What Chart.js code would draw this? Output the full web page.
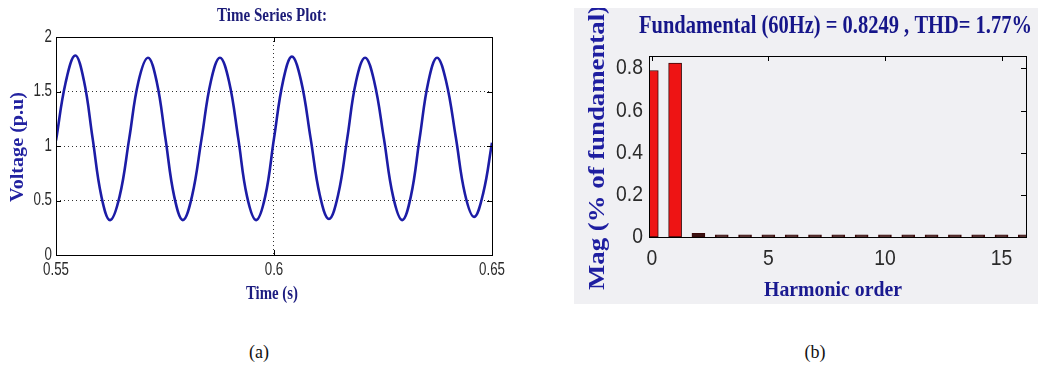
<!DOCTYPE html>
<html>
<head>
<meta charset="utf-8">
<script src="https://cdn.jsdelivr.net/npm/chart.js@4.4.1/dist/chart.umd.min.js"></script>
<style>
  html, body { margin: 0; padding: 0; background: #ffffff; }
  body { width: 1038px; height: 368px; position: relative; overflow: hidden; }
  #wrapA { position: absolute; left: 0; top: 0; width: 520px; height: 310px; }
  #wrapB { position: absolute; left: 574px; top: 8px; width: 464px; height: 296px; background: #f0f0f3; }
  .cap { position: absolute; top: 342px; font-family: 'Liberation Serif', 'Times New Roman', serif; font-size: 18px; color: #111; transform: translateX(-50%); }
</style>
</head>
<body>
<div id="wrapA"><canvas id="chartA" width="520" height="310"></canvas></div>
<div id="wrapB"><canvas id="chartB" width="464" height="296"></canvas></div>
<div class="cap" style="left:259px">(a)</div>
<div class="cap" style="left:815px">(b)</div>
<script>
// ---------- data: (a) time series ----------
const timeA = [
  0.5500, 0.5522, 0.5544, 0.5564, 0.5584, 0.5604, 0.5624,
  0.5646, 0.5668, 0.5689, 0.5711, 0.5731, 0.5751, 0.5771, 0.5791,
  0.5812, 0.5834, 0.5855, 0.5876, 0.5897, 0.5918, 0.5938, 0.5959,
  0.5980, 0.6000, 0.6021, 0.6041, 0.6062, 0.6084, 0.6105, 0.6126,
  0.6147, 0.6168, 0.6188, 0.6209, 0.6230, 0.6252, 0.6273, 0.6294,
  0.6314, 0.6334, 0.6354, 0.6374, 0.6395, 0.6417, 0.6438, 0.6459,
  0.6480, 0.6500
];
const voltA = [
  1.05, 1.58, 1.83, 1.60, 1.07, 0.54, 0.32,
  0.54, 1.07, 1.59, 1.81, 1.59, 1.07, 0.54, 0.32,
  0.54, 1.07, 1.59, 1.81, 1.59, 1.07, 0.54, 0.32,
  0.54, 1.07, 1.60, 1.82, 1.60, 1.07, 0.55, 0.33,
  0.55, 1.07, 1.59, 1.81, 1.59, 1.07, 0.54, 0.32,
  0.54, 1.07, 1.59, 1.81, 1.59, 1.08, 0.56, 0.35,
  0.57, 1.03
];
const xTickValsA = [0.55, 0.6, 0.65];
const xTickLabelsA = ['0.55', '0.6', '0.65'];
const yTickValsA = [0, 0.5, 1, 1.5, 2];
const yTickLabelsA = ['0', '0.5', '1', '1.5', '2'];

// ---------- data: (b) harmonic spectrum ----------
const harmonicOrder = [0, 1, 2, 3, 4, 5, 6, 7, 8, 9, 10, 11, 12, 13, 14, 15, 16];
const harmonicMag = [0.79, 0.8249, 0.018, 0.01, 0.01, 0.01, 0.01, 0.01, 0.01, 0.01, 0.01, 0.01, 0.01, 0.01, 0.01, 0.01, 0.01];
const xTickValsB = [0, 5, 10, 15];
const xTickLabelsB = ['0', '5', '10', '15'];
const yTickValsB = [0, 0.2, 0.4, 0.6, 0.8];
const yTickLabelsB = ['0', '0.2', '0.4', '0.6', '0.8'];

// ---------- plugins ----------
const framePlugin = {
  id: 'matlabFrame',
  afterDatasetsDraw(chart, args, opts) {
    const { ctx, chartArea: a } = chart;
    const L = opts.tickLen || 5;
    const xs = chart.scales.x, ys = chart.scales.y;
    ctx.save();
    ctx.strokeStyle = opts.color || '#000';
    ctx.lineWidth = 1;
    ctx.setLineDash([]);
    ctx.beginPath();
    xs.ticks.forEach(t => {
      const px = Math.round(xs.getPixelForValue(t.value)) + 0.5;
      ctx.moveTo(px, a.top); ctx.lineTo(px, a.top + L);
      if (opts.bottomTicks) { ctx.moveTo(px, a.bottom); ctx.lineTo(px, a.bottom - L); }
    });
    ys.ticks.forEach(t => {
      const py = Math.round(ys.getPixelForValue(t.value)) + 0.5;
      ctx.moveTo(a.right, py); ctx.lineTo(a.right - L, py);
      if (opts.leftTicks) { ctx.moveTo(a.left, py); ctx.lineTo(a.left + L, py); }
    });
    ctx.stroke();
    ctx.strokeRect(Math.round(a.left) + 0.5, Math.round(a.top) + 0.5,
                   Math.round(a.right - a.left), Math.round(a.bottom - a.top));
    // tick labels
    const tl = opts.tickLabels;
    if (tl) {
      ctx.font = tl.font;
      ctx.fillStyle = tl.color;
      ctx.textBaseline = 'middle';
      xs.ticks.forEach((t, i) => {
        ctx.save();
        ctx.textAlign = 'center';
        ctx.translate(xs.getPixelForValue(t.value), a.bottom + tl.xGap);
        ctx.scale(tl.scaleX, 1);
        ctx.fillText(tl.xLabels[i], 0, 0);
        ctx.restore();
      });
      ys.ticks.forEach((t, i) => {
        ctx.save();
        ctx.textAlign = 'right';
        ctx.translate(a.left - tl.yGap, ys.getPixelForValue(t.value));
        ctx.scale(tl.scaleX, 1);
        ctx.fillText(tl.yLabels[i], 0, 0);
        ctx.restore();
      });
    }
    ctx.restore();
  }
};

const textPlugin = {
  id: 'fitText',
  afterDraw(chart, args, opts) {
    const ctx = chart.ctx;
    (opts.items || []).forEach(it => {
      ctx.save();
      ctx.font = it.font;
      ctx.fillStyle = it.color;
      ctx.textAlign = 'center';
      ctx.textBaseline = 'middle';
      ctx.translate(it.x, it.y);
      if (it.rotate) ctx.rotate(it.rotate);
      const w = ctx.measureText(it.text).width;
      if (it.width) ctx.scale(it.width / w, 1);
      ctx.fillText(it.text, 0, 0);
      ctx.restore();
    });
  }
};

const sans = "'Liberation Sans', Arial, sans-serif";
const serif = "'Liberation Serif', 'Times New Roman', serif";

function fixTicks(vals) {
  return function (scale) { scale.ticks = vals.map(v => ({ value: v })); };
}

// ---------- chart (a) ----------
new Chart(document.getElementById('chartA'), {
  type: 'line',
  data: {
    datasets: [{
      data: timeA.map((t, i) => ({ x: t, y: voltA[i] })),
      borderColor: '#1c1ca6',
      borderWidth: 2.6,
      pointRadius: 0,
      tension: 0.4,
      fill: false
    }]
  },
  options: {
    responsive: false,
    animation: false,
    devicePixelRatio: 1,
    layout: { padding: { top: 37, right: 28, left: 0, bottom: 0 } },
    plugins: {
      legend: { display: false },
      tooltip: { enabled: false },
      matlabFrame: {
        tickLen: 5, bottomTicks: true, leftTicks: true,
        tickLabels: { font: '18px ' + sans, color: '#2a2a2a', scaleX: 0.74, xGap: 15, yGap: 4,
                      xLabels: xTickLabelsA, yLabels: yTickLabelsA }
      },
      fitText: {
        items: [
          { text: 'Time Series Plot:', x: 272, y: 16, font: 'bold 19px ' + serif, color: '#1c1c78', width: 110 },
          { text: 'Time (s)', x: 272, y: 294, font: 'bold 19px ' + serif, color: '#1c1c80', width: 52 },
          { text: 'Voltage (p.u)', x: 18, y: 147, rotate: -Math.PI / 2, font: 'bold 19px ' + serif, color: '#2222a0', width: 110 }
        ]
      }
    },
    scales: {
      x: {
        type: 'linear', min: 0.55, max: 0.65,
        afterBuildTicks: fixTicks(xTickValsA),
        afterFit(s) { s.height = 55; },
        ticks: { display: false },
        grid: { color: '#333', lineWidth: 1, drawTicks: false },
        border: { display: false, dash: [1, 3] }
      },
      y: {
        type: 'linear', min: 0, max: 2,
        afterBuildTicks: fixTicks(yTickValsA),
        afterFit(s) { s.width = 56; },
        ticks: { display: false },
        grid: { color: '#333', lineWidth: 1, drawTicks: false },
        border: { display: false, dash: [1, 3] }
      }
    }
  },
  plugins: [framePlugin, textPlugin]
});

// ---------- chart (b) ----------
new Chart(document.getElementById('chartB'), {
  type: 'bar',
  data: {
    datasets: [{
      data: harmonicOrder.map((h, i) => ({ x: h, y: harmonicMag[i] })),
      backgroundColor: harmonicMag.map(v => v > 0.1 ? '#ee1414' : '#3a1212'),
      borderColor: '#3a0808',
      borderWidth: 1,
      borderSkipped: false,
      barThickness: 13
    }]
  },
  options: {
    responsive: false,
    animation: false,
    devicePixelRatio: 1,
    layout: { padding: { top: 48, right: 12, left: 0, bottom: 0 } },
    plugins: {
      legend: { display: false },
      tooltip: { enabled: false },
      matlabFrame: {
        tickLen: 5, bottomTicks: false, leftTicks: false,
        tickLabels: { font: '22px ' + sans, color: '#2a2a2a', scaleX: 0.88, xGap: 22, yGap: 6,
                      xLabels: xTickLabelsB, yLabels: yTickLabelsB }
      },
      fitText: {
        items: [
          { text: 'Fundamental (60Hz) = 0.8249 , THD= 1.77%', x: 261.5, y: 19, font: 'bold 25px ' + serif, color: '#16168a', width: 393 },
          { text: 'Harmonic order', x: 259, y: 283, font: 'bold 21px ' + serif, color: '#1a1a90', width: 138 },
          { text: 'Mag (% of fundamental)', x: 24, y: 139.5, rotate: -Math.PI / 2, font: 'bold 24px ' + serif, color: '#1e1ea0', width: 285 }
        ]
      }
    },
    scales: {
      x: {
        type: 'linear', min: -0.12, max: 16.05, offset: false,
        afterBuildTicks: fixTicks(xTickValsB),
        afterFit(s) { s.height = 67; },
        ticks: { display: false },
        grid: { display: false, offset: false, drawTicks: false },
        border: { display: false }
      },
      y: {
        type: 'linear', min: 0, max: 0.859,
        afterBuildTicks: fixTicks(yTickValsB),
        afterFit(s) { s.width = 75; },
        ticks: { display: false },
        grid: { display: false, drawTicks: false },
        border: { display: false }
      }
    }
  },
  plugins: [framePlugin, textPlugin]
});
</script>
</body>
</html>
